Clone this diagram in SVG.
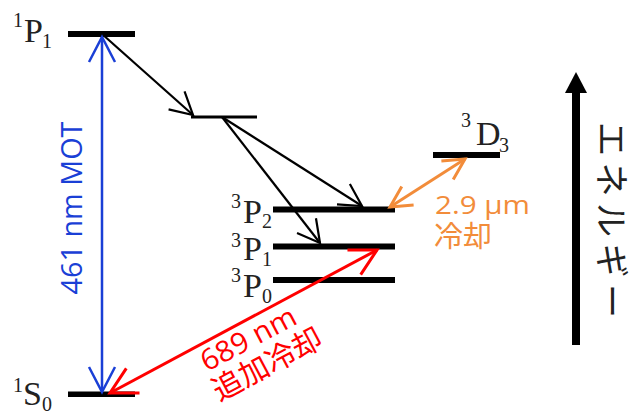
<svg xmlns="http://www.w3.org/2000/svg" width="629" height="414" viewBox="0 0 629 414">
<style>
.lvl{fill:#000}
.lab{font-family:"Liberation Serif",serif;fill:#222}
.big{font-size:34px}
.small{font-size:20px}
.sans{font-family:"Open Sans","Noto Sans CJK JP",sans-serif}
.cjk{font-family:"Noto Sans CJK JP",sans-serif}
</style>
<defs>
<marker id="mk" markerUnits="userSpaceOnUse" markerWidth="50" markerHeight="50" viewBox="-30 -25 50 50" refX="0" refY="0" orient="auto-start-reverse" overflow="visible"><path d="M-22,-12 L0,0 L-22,12" fill="none" stroke="#000" stroke-width="2.2"/></marker>
<marker id="mb" markerUnits="userSpaceOnUse" markerWidth="50" markerHeight="50" viewBox="-30 -25 50 50" refX="0" refY="0" orient="auto-start-reverse" overflow="visible"><path d="M-25,-13 L0,0 L-25,13" fill="none" stroke="#1a3fd6" stroke-width="2.5"/></marker>
<marker id="mr" markerUnits="userSpaceOnUse" markerWidth="50" markerHeight="50" viewBox="-30 -25 50 50" refX="0" refY="0" orient="auto-start-reverse" overflow="visible"><path d="M-26,-14 L0,0 L-26,14" fill="none" stroke="#ff0000" stroke-width="3"/></marker>
<marker id="mo" markerUnits="userSpaceOnUse" markerWidth="50" markerHeight="50" viewBox="-30 -25 50 50" refX="0" refY="0" orient="auto-start-reverse" overflow="visible"><path d="M-21,-11 L0,0 L-21,11" fill="none" stroke="#f28c3a" stroke-width="3"/></marker>
</defs>
<rect width="629" height="414" fill="#fff"/>

<g id="level-1P1">
<rect class="lvl" x="68" y="31" width="67" height="6"/>
<text class="lab small" x="13" y="27">1</text><text class="lab big" x="24" y="42">P</text><text class="lab small" x="42" y="48">1</text>
</g>
<g id="level-intermediate">
<rect class="lvl" x="191" y="115.5" width="66" height="3"/>
</g>
<g id="level-3P2">
<rect class="lvl" x="273" y="206.5" width="122" height="6"/>
<text class="lab small" x="231" y="208">3</text><text class="lab big" x="243" y="223">P</text><text class="lab small" x="262" y="228">2</text>
</g>
<g id="level-3P1">
<rect class="lvl" x="273" y="243.5" width="122" height="6"/>
<text class="lab small" x="231" y="247">3</text><text class="lab big" x="243" y="260">P</text><text class="lab small" x="262" y="266">1</text>
</g>
<g id="level-3P0">
<rect class="lvl" x="273" y="277" width="122" height="6"/>
<text class="lab small" x="231" y="282">3</text><text class="lab big" x="243" y="297">P</text><text class="lab small" x="262" y="303">0</text>
</g>
<g id="level-3D3">
<rect class="lvl" x="433" y="152" width="67" height="6"/>
<text class="lab small" x="461" y="127">3</text><text class="lab big" x="476" y="145">D</text><text class="lab small" x="499" y="152">3</text>
</g>
<g id="level-1S0">
<rect class="lvl" x="68" y="391.5" width="67" height="5.5"/>
<text class="lab small" x="13" y="392">1</text><text class="lab big" x="23" y="405">S</text><text class="lab small" x="42" y="411">0</text>
</g>

<g id="connectors" fill="none">
<line x1="102" y1="34" x2="193" y2="115" stroke="#000" stroke-width="2.2" marker-end="url(#mk)"/>
<line x1="222" y1="117" x2="362" y2="206" stroke="#000" stroke-width="2.2" marker-end="url(#mk)"/>
<line x1="222" y1="117" x2="320" y2="243" stroke="#000" stroke-width="2.2" marker-end="url(#mk)"/>
<line x1="102" y1="37" x2="102" y2="392" stroke="#1a3fd6" stroke-width="2.5" marker-start="url(#mb)" marker-end="url(#mb)"/>
<line x1="110" y1="393" x2="377" y2="250" stroke="#ff0000" stroke-width="3" marker-start="url(#mr)" marker-end="url(#mr)"/>
<line x1="390" y1="207" x2="465" y2="159" stroke="#f28c3a" stroke-width="3" marker-start="url(#mo)" marker-end="url(#mo)"/>
</g>

<g id="label-461">
<text class="sans" transform="translate(82,208) rotate(-90)" text-anchor="middle" font-size="29" fill="#1a3fd6" textLength="173" lengthAdjust="spacingAndGlyphs">461 nm MOT</text>
</g>
<g id="label-689" transform="translate(207,372) rotate(-28)" fill="#ff0000">
<text class="sans" x="0" y="0" font-size="29" textLength="104" lengthAdjust="spacingAndGlyphs">689 nm</text>
<text class="cjk" x="-3" y="32" font-size="30">追加冷却</text>
</g>
<g id="label-29um" fill="#f28c3a">
<text class="sans" x="435" y="214" font-size="25" textLength="95" lengthAdjust="spacingAndGlyphs">2.9 µm</text>
<text class="cjk" x="434" y="247" font-size="29">冷却</text>
</g>
<g id="energy-axis">
<line x1="576" y1="345" x2="576" y2="90" stroke="#000" stroke-width="8"/>
<polygon points="576,72 587,93 565,93" fill="#000"/>
<text class="cjk" transform="translate(599,122) rotate(90)" font-size="34" fill="#222" textLength="196" lengthAdjust="spacing">エネルギー</text>
</g>
</svg>
